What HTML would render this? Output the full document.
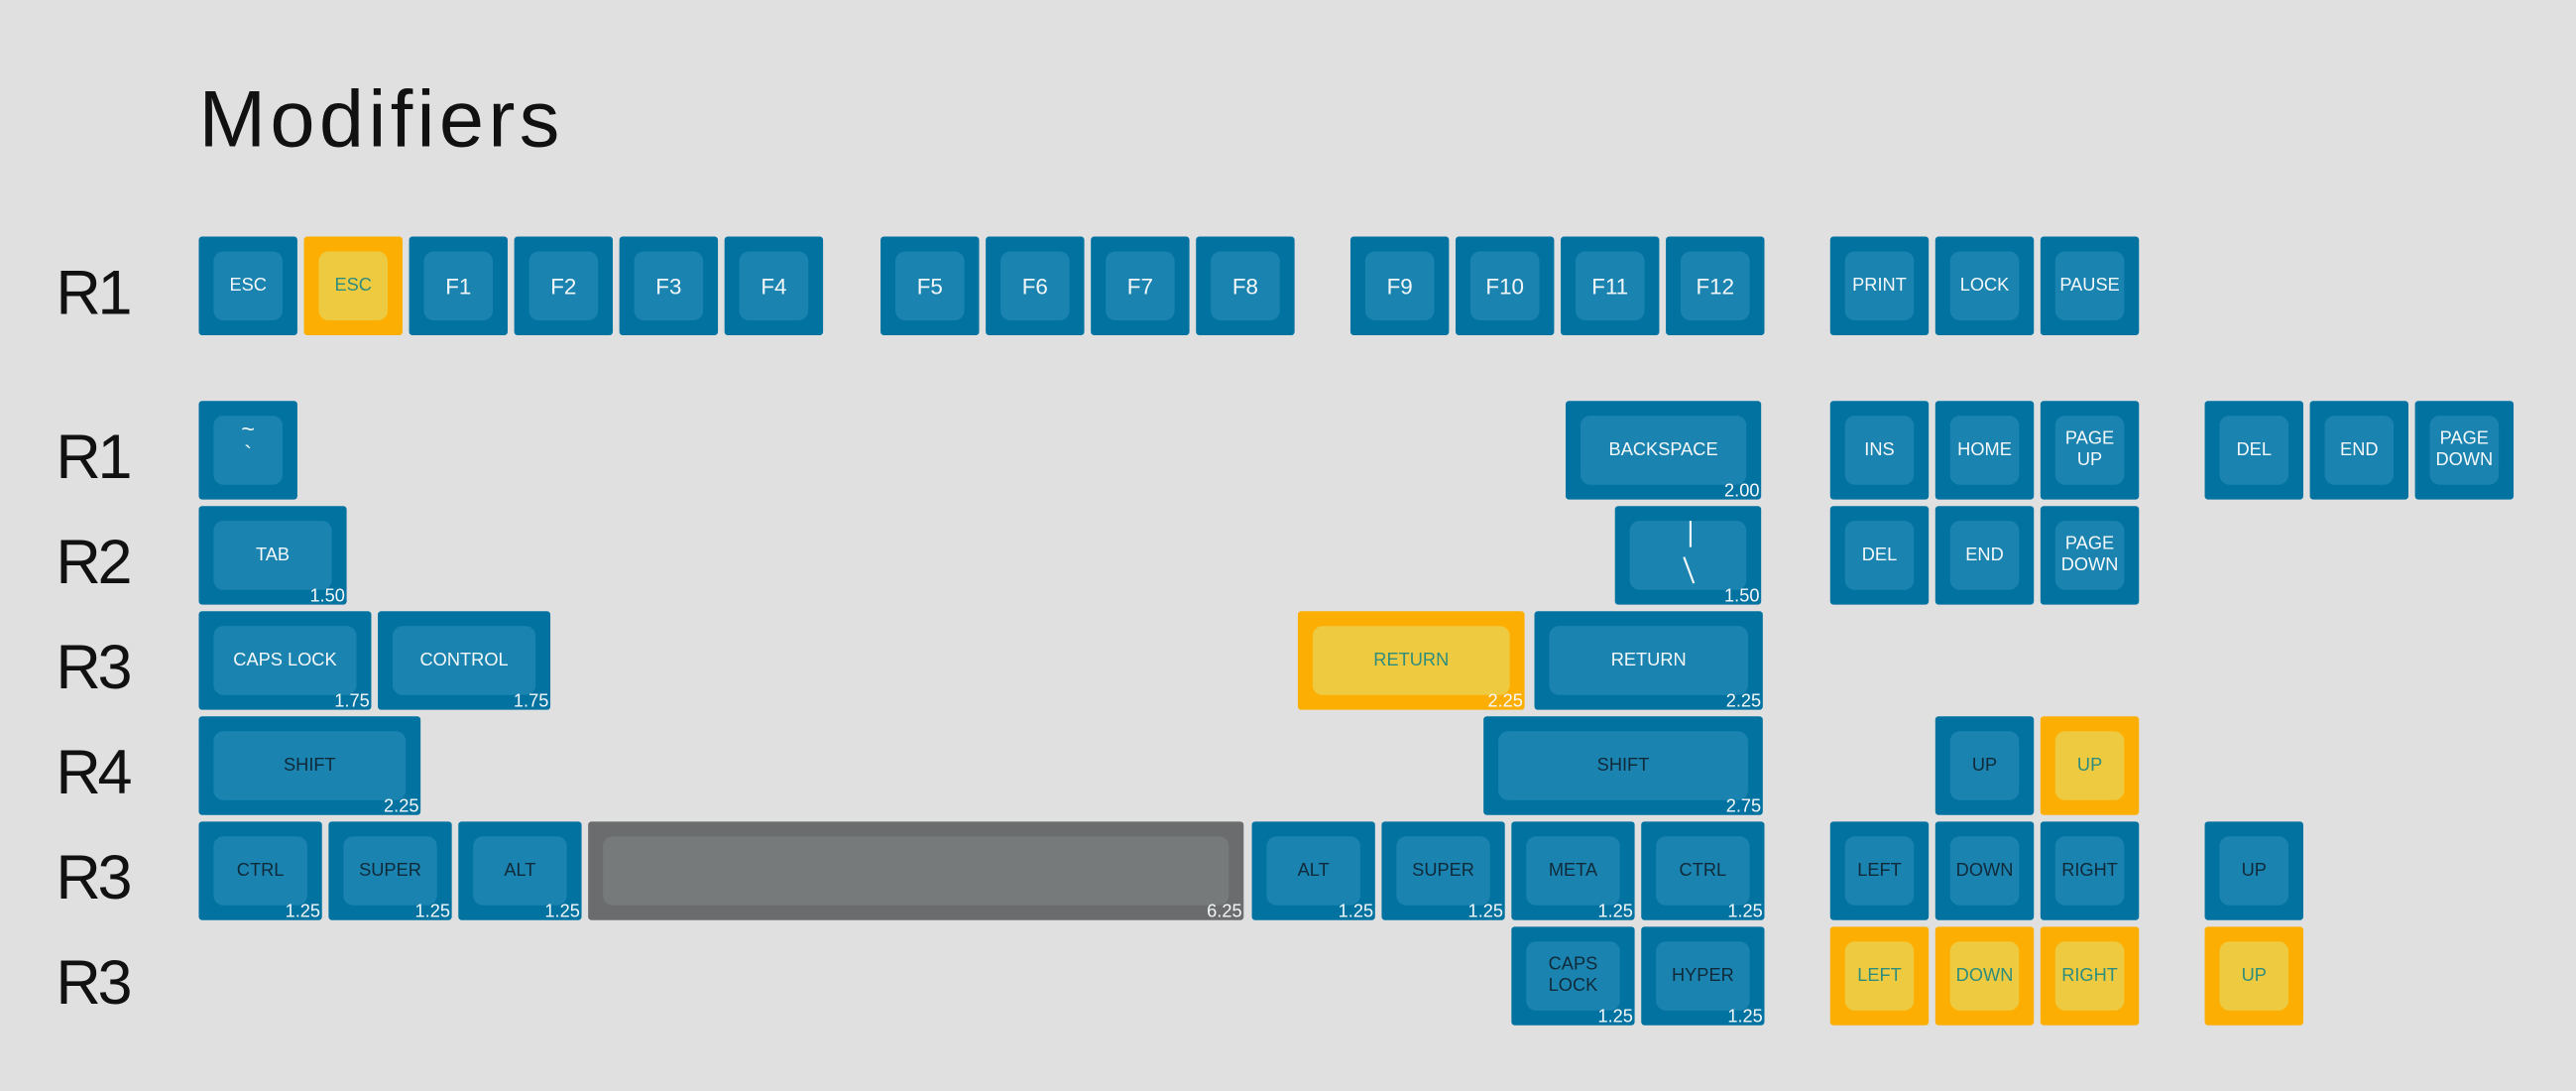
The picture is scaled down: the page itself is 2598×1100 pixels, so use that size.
<!DOCTYPE html>
<html><head><meta charset="utf-8"><style>
html,body{margin:0;padding:0;background:#e0e0e0;}
body{width:2598px;height:1100px;overflow:hidden;position:relative;font-family:"Liberation Sans",sans-serif;}
#w{position:absolute;left:0;top:0;width:1568px;height:664px;transform:scale(1.65689,1.65663);transform-origin:0 0;}
.t{position:absolute;left:121px;top:45px;font-size:49px;color:#111;font-weight:300;letter-spacing:2.6px;}
.r{position:absolute;left:34px;font-size:38px;color:#111;font-weight:300;letter-spacing:-2px;}
.k{position:absolute;height:60px;width:60px;background:#0272a0;border-radius:2px;}
.k .i{position:absolute;left:9px;right:9px;top:9px;bottom:9px;background:#1b83b0;border-radius:6px;display:flex;align-items:center;justify-content:center;text-align:center;font-size:11px;color:#f4f8fa;line-height:13px;}
.k.o{background:#fcae02;}
.k.o .i{background:#eeca40;color:#2e8d7d;}
.k.g{background:#6a6c6d;}
.k.g .i{background:#767a7b;}
.k.d .i{color:#102a3a;}
.k.f .i{font-size:13.5px;}
.s{position:absolute;right:1px;bottom:-1px;font-size:11px;color:#f4f8fa;line-height:12px;}
</style></head><body><div id="w">
<div class="t">Modifiers</div>
<div class="r" style="top:158px">R1</div>
<div class="r" style="top:258px">R1</div>
<div class="r" style="top:322px">R2</div>
<div class="r" style="top:386px">R3</div>
<div class="r" style="top:450px">R4</div>
<div class="r" style="top:514px">R3</div>
<div class="r" style="top:578px">R3</div>

<div class="k" style="left:121px;top:144px"><div class="i">ESC</div></div>
<div class="k o" style="left:185px;top:144px"><div class="i">ESC</div></div>
<div class="k f" style="left:249px;top:144px"><div class="i">F1</div></div>
<div class="k f" style="left:313px;top:144px"><div class="i">F2</div></div>
<div class="k f" style="left:377px;top:144px"><div class="i">F3</div></div>
<div class="k f" style="left:441px;top:144px"><div class="i">F4</div></div>
<div class="k f" style="left:536px;top:144px"><div class="i">F5</div></div>
<div class="k f" style="left:600px;top:144px"><div class="i">F6</div></div>
<div class="k f" style="left:664px;top:144px"><div class="i">F7</div></div>
<div class="k f" style="left:728px;top:144px"><div class="i">F8</div></div>
<div class="k f" style="left:822px;top:144px"><div class="i">F9</div></div>
<div class="k f" style="left:886px;top:144px"><div class="i">F10</div></div>
<div class="k f" style="left:950px;top:144px"><div class="i">F11</div></div>
<div class="k f" style="left:1014px;top:144px"><div class="i">F12</div></div>
<div class="k" style="left:1114px;top:144px"><div class="i">PRINT</div></div>
<div class="k" style="left:1178px;top:144px"><div class="i">LOCK</div></div>
<div class="k" style="left:1242px;top:144px"><div class="i">PAUSE</div></div>

<div class="k" style="left:121px;top:244px"><div class="i" style="display:block;font-size:14px;line-height:15px;padding-top:1px">~<br>`</div></div>
<div class="k" style="left:953px;top:244px;width:119px"><div class="i">BACKSPACE</div><div class="s">2.00</div></div>
<div class="k" style="left:1114px;top:244px"><div class="i">INS</div></div>
<div class="k" style="left:1178px;top:244px"><div class="i">HOME</div></div>
<div class="k" style="left:1242px;top:244px"><div class="i">PAGE<br>UP</div></div>
<div class="k" style="left:1342px;top:244px"><div class="i">DEL</div></div>
<div class="k" style="left:1406px;top:244px"><div class="i">END</div></div>
<div class="k" style="left:1470px;top:244px"><div class="i">PAGE<br>DOWN</div></div>

<div class="k" style="left:121px;top:308px;width:90px"><div class="i">TAB</div><div class="s">1.50</div></div>
<div class="k" style="left:983px;top:308px;width:89px"><div class="i"><svg width="20" height="44" viewBox="0 0 20 44"><line x1="11" y1="1" x2="11" y2="17" stroke="#f4f8fa" stroke-width="1.3"/><line x1="7" y1="23" x2="13" y2="39" stroke="#f4f8fa" stroke-width="1.3"/></svg></div><div class="s">1.50</div></div>
<div class="k" style="left:1114px;top:308px"><div class="i">DEL</div></div>
<div class="k" style="left:1178px;top:308px"><div class="i">END</div></div>
<div class="k" style="left:1242px;top:308px"><div class="i">PAGE<br>DOWN</div></div>

<div class="k" style="left:121px;top:372px;width:105px"><div class="i">CAPS LOCK</div><div class="s">1.75</div></div>
<div class="k" style="left:230px;top:372px;width:105px"><div class="i">CONTROL</div><div class="s">1.75</div></div>
<div class="k o" style="left:790px;top:372px;width:138px"><div class="i">RETURN</div><div class="s">2.25</div></div>
<div class="k" style="left:934px;top:372px;width:139px"><div class="i">RETURN</div><div class="s">2.25</div></div>

<div class="k d" style="left:121px;top:436px;width:135px"><div class="i">SHIFT</div><div class="s">2.25</div></div>
<div class="k d" style="left:903px;top:436px;width:170px"><div class="i">SHIFT</div><div class="s">2.75</div></div>
<div class="k d" style="left:1178px;top:436px"><div class="i">UP</div></div>
<div class="k o" style="left:1242px;top:436px"><div class="i">UP</div></div>

<div class="k d" style="left:121px;top:500px;width:75px"><div class="i">CTRL</div><div class="s">1.25</div></div>
<div class="k d" style="left:200px;top:500px;width:75px"><div class="i">SUPER</div><div class="s">1.25</div></div>
<div class="k d" style="left:279px;top:500px;width:75px"><div class="i">ALT</div><div class="s">1.25</div></div>
<div class="k g" style="left:358px;top:500px;width:399px"><div class="i"></div><div class="s">6.25</div></div>
<div class="k d" style="left:762px;top:500px;width:75px"><div class="i">ALT</div><div class="s">1.25</div></div>
<div class="k d" style="left:841px;top:500px;width:75px"><div class="i">SUPER</div><div class="s">1.25</div></div>
<div class="k d" style="left:920px;top:500px;width:75px"><div class="i">META</div><div class="s">1.25</div></div>
<div class="k d" style="left:999px;top:500px;width:75px"><div class="i">CTRL</div><div class="s">1.25</div></div>
<div class="k d" style="left:1114px;top:500px"><div class="i">LEFT</div></div>
<div class="k d" style="left:1178px;top:500px"><div class="i">DOWN</div></div>
<div class="k d" style="left:1242px;top:500px"><div class="i">RIGHT</div></div>
<div class="k d" style="left:1342px;top:500px"><div class="i">UP</div></div>

<div class="k d" style="left:920px;top:564px;width:75px"><div class="i">CAPS<br>LOCK</div><div class="s">1.25</div></div>
<div class="k d" style="left:999px;top:564px;width:75px"><div class="i">HYPER</div><div class="s">1.25</div></div>
<div class="k o" style="left:1114px;top:564px"><div class="i">LEFT</div></div>
<div class="k o" style="left:1178px;top:564px"><div class="i">DOWN</div></div>
<div class="k o" style="left:1242px;top:564px"><div class="i">RIGHT</div></div>
<div class="k o" style="left:1342px;top:564px"><div class="i">UP</div></div>
</div></body></html>
